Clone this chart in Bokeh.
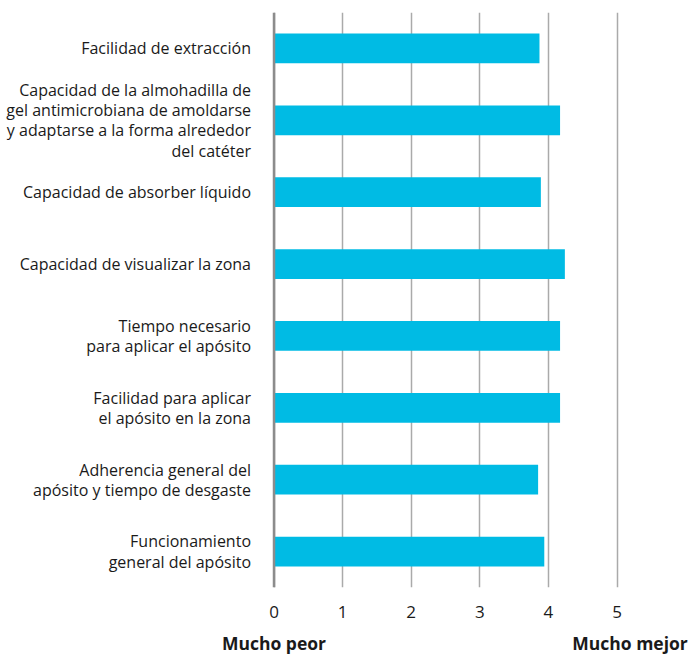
from bokeh.plotting import figure
from bokeh.models import Label, Span, FixedTicker, Range1d, LinearAxis
from bokeh.embed import file_html
from bokeh.resources import INLINE

categories = [
    "Facilidad de extracción",
    "Capacidad de la almohadilla de\ngel antimicrobiana de amoldarse\ny adaptarse a la forma alrededor\ndel catéter",
    "Capacidad de absorber líquido",
    "Capacidad de visualizar la zona",
    "Tiempo necesario\npara aplicar el apósito",
    "Facilidad para aplicar\nel apósito en la zona",
    "Adherencia general del\napósito y tiempo de desgaste",
    "Funcionamiento\ngeneral del apósito",
]
values = [3.87, 4.17, 3.89, 4.24, 4.17, 4.17, 3.85, 3.94]
ticks = [0, 1, 2, 3, 4, 5]
end_ticks = [0, 5.19]
end_labels = ["Mucho peor", "Mucho mejor"]

FONT = "Open Sans"
TXT = "#1a1a1a"
positions = list(range(len(categories)))

p = figure(width=691, height=657, output_backend="svg", toolbar_location=None,
           x_range=Range1d(-3.987, 6.086), y_range=Range1d(7.5, -0.5),
           min_border_left=0, min_border_right=0, min_border_top=12,
           min_border_bottom=0)
p.outline_line_color = None
p.background_fill_color = "white"
p.border_fill_color = "white"

p.hbar(y=positions, right=values, left=0, height=0.415, color="#00BBE4",
       line_color=None)

p.yaxis.visible = False
p.ygrid.grid_line_color = None
p.xaxis.ticker = FixedTicker(ticks=ticks)
p.xaxis.axis_line_color = None
p.xaxis.major_tick_line_color = None
p.xaxis.minor_tick_line_color = None
p.xaxis.major_label_text_font = FONT
p.xaxis.major_label_text_font_size = "17px"
p.xaxis.major_label_text_color = TXT
p.xaxis.major_label_standoff = 12
p.xgrid.ticker = FixedTicker(ticks=ticks)
p.xgrid.grid_line_color = "#aaaaaa"
p.xgrid.grid_line_width = 1.5

ax2 = LinearAxis(ticker=FixedTicker(ticks=end_ticks),
                 major_label_overrides={t: s for t, s in zip(end_ticks, end_labels)},
                 axis_line_color=None, major_tick_line_color=None,
                 minor_tick_line_color=None, major_label_text_font=FONT,
                 major_label_text_font_size="17.5px",
                 major_label_text_font_style="bold",
                 major_label_text_color=TXT, major_label_standoff=4)
p.add_layout(ax2, "below")

p.add_layout(Span(location=0, dimension="height", line_color="#8c8c8c",
                  line_width=2.5))

for y, txt in zip(positions, categories):
    p.add_layout(Label(x=0, y=y, text=txt, x_offset=-23, text_align="right",
                       text_baseline="middle", text_font=FONT,
                       text_font_size="16px", text_color=TXT,
                       text_line_height=0.92))

open("out.html", "w").write(file_html(p, INLINE))
